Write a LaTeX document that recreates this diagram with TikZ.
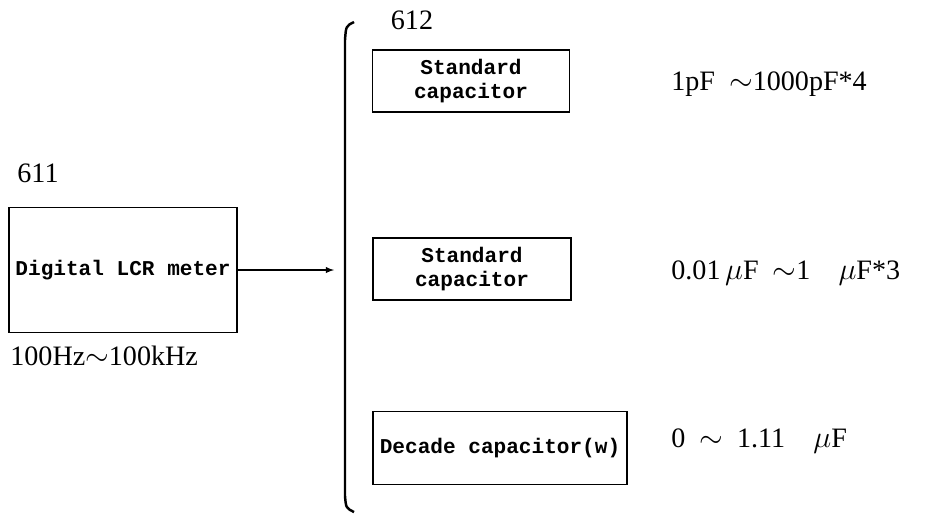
\documentclass[tikz,border=0pt]{standalone}
\usepackage{amsmath}
\usepackage{amssymb}
\usepackage{fontspec}
\setmainfont{Liberation Serif}
\setmonofont{Liberation Mono}

\begin{document}
\begin{tikzpicture}[x=0.02cm, y=-0.02cm,
    box/.style={draw, rectangle, line width=0.8pt, inner sep=2pt, font=\ttfamily\bfseries\fontsize{12}{14}\selectfont, align=center},
    lbl/.style={inner sep=0pt, font=\fontsize{16}{16}\selectfont}]
    \useasboundingbox (0,0) rectangle (925,515);

    \node[lbl] (num611) at (38,173) {611};
    \node[box, minimum width=4.56cm, minimum height=2.5cm] (meter) at (123,270) {Digital LCR meter};
    \node[lbl, anchor=west] (freq) at (10,356) {100Hz$\sim$100kHz};

    \node[lbl] (num612) at (412,20) {612};
    \node[box, minimum width=3.94cm, minimum height=1.24cm] (std1) at (471,81) {Standard\\capacitor};
    \node[box, minimum width=3.96cm, minimum height=1.24cm] (std2) at (472,269) {Standard\\capacitor};
    \node[box, minimum width=5.08cm, minimum height=1.46cm] (decade) at (500,448) {Decade capacitor(w)};

    \node[lbl, anchor=west] (range1) at (671,84) {1pF\enspace$\sim$1000pF*4};
    \node[lbl, anchor=west] (range2) at (671,273) {0.01\,$\mu$F\enspace$\sim$1\quad$\mu$F*3};
    \node[lbl, anchor=west] (range3) at (671,441) {0\enspace$\sim$\enspace1.11\quad$\mu$F};

    % bracket
    \draw[line width=1.4pt] (354,22) .. controls (346,26) .. (345,40) -- (345,496) .. controls (346,508) .. (354,512);
    \coordinate (brk) at (334,270);

    \draw[->, >=latex, line width=0.6pt] (meter) -- (brk);
\end{tikzpicture}
\end{document}
